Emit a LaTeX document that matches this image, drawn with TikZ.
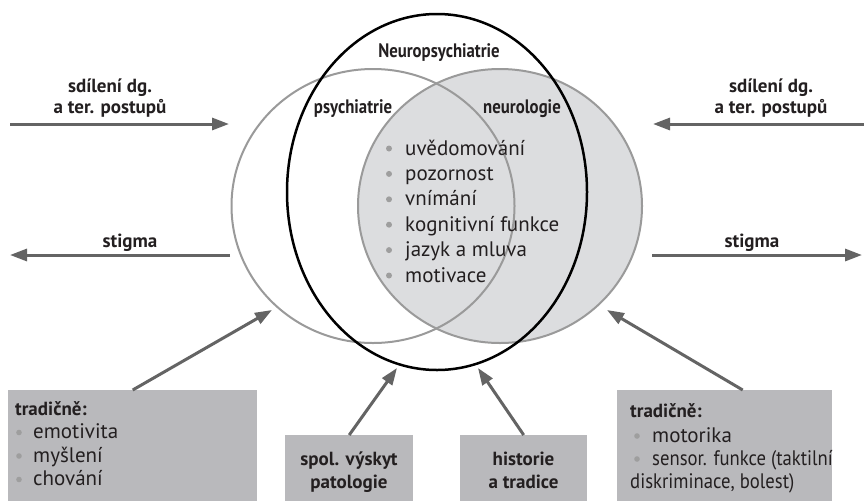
\documentclass[tikz,border=0pt]{standalone}
\usepackage{fontspec}
\setmainfont{PT Sans}
\newfontfamily\condfont{PT Sans}[FakeStretch=0.86]
\newfontfamily\narrowfont{PT Sans}[FakeStretch=0.89]
\usetikzlibrary{arrows.meta,shapes.geometric}
\definecolor{circgray}{HTML}{9A9A9A}
\definecolor{fillgray}{HTML}{DCDDDF}
\definecolor{boxgray}{HTML}{B9B9BC}
\definecolor{arrgray}{HTML}{646464}
\definecolor{txt}{HTML}{231F20}
\definecolor{bulgray}{HTML}{9E9E9E}
\newcommand\lblfont{\bfseries\fontsize{19}{22}\selectfont}
\newcommand\circfont{\condfont\bfseries\fontsize{19.5}{22}\selectfont}
\newcommand\itemfont{\fontsize{21}{24}\selectfont}
\begin{document}
\begin{tikzpicture}[x=1pt,y=-1pt,
  lbl/.style={font=\lblfont, text=txt, inner sep=0, anchor=base},
  clbl/.style={font=\circfont, text=txt, inner sep=0, anchor=base},
  item/.style={font=\itemfont, text=txt, inner sep=0, anchor=base west},
  arr/.style={draw=arrgray, line width=3pt, -{Triangle[length=17pt,width=12pt]}},
  boxnode/.style={fill=boxgray, inner sep=0, anchor=north west},
  circ/.style={ellipse, inner sep=0, line width=2pt},
  bul/.style={fill=bulgray}]
\useasboundingbox (0,0) rectangle (864,501);
\fill[white] (0,0) rectangle (864,501);
% circles
\node[circ, fill=fillgray, draw=circgray, minimum width=284pt, minimum height=274pt] (neuro) at (500,206) {};
\node[circ, draw=circgray, minimum width=283pt, minimum height=274pt] (psych) at (373,206) {};
\node[circ, draw=black, line width=2.5pt, minimum width=300pt, minimum height=356pt] (neuropsy) at (437,192) {};
% circle labels
\node[clbl] (tNP) at (439,57) {Neuropsychiatrie};
\node[clbl] (tP) at (353,113) {psychiatrie};
\node[clbl] (tN) at (522,113) {neurologie};
% central list
\foreach \t [count=\i] in {uvědomování,pozornost,vnímání,kognitivní funkce,jazyk a mluva,motivace}{
  \pgfmathsetmacro\yy{155+25.4*(\i-1)}
  \fill[bul] (389,\yy-6.5) circle (3pt);
  \node[item] (c\i) at (405,\yy) {\t};
}
% side arrows
\coordinate (la1) at (10,124); \coordinate (la2) at (229,124);
\coordinate (ra1) at (864,124); \coordinate (ra2) at (653,124);
\coordinate (ls1) at (230,255); \coordinate (ls2) at (10,255);
\coordinate (rs1) at (652,255); \coordinate (rs2) at (862,255);
\draw[arr] (la1) -- (la2);
\draw[arr] (ra1) -- (ra2);
\draw[arr] (ls1) -- (ls2);
\draw[arr] (rs1) -- (rs2);
\node[lbl] (tl1) at (110,92) {sdílení dg.};
\node[lbl] (tl2) at (110,113) {a ter. postupů};
\node[lbl] (tr1) at (771,92) {sdílení dg.};
\node[lbl] (tr2) at (771,113) {a ter. postupů};
\node[lbl] (tsl) at (130,247) {stigma};
\node[lbl] (tsr) at (752,247) {stigma};
% boxes
\node[boxnode, minimum width=249pt, minimum height=111pt] (lbox) at (8,390) {};
\node[boxnode, minimum width=215pt, minimum height=111pt] (rbox) at (617,390) {};
\node[boxnode, minimum width=128pt, minimum height=66pt] (mlbox) at (285,435) {};
\node[boxnode, minimum width=127pt, minimum height=66pt] (mrbox) at (460,435) {};
% box texts
\node[lbl, anchor=base west] (lh) at (15,415) {tradičně:};
\foreach \t [count=\i] in {emotivita,myšlení,chování}{
  \pgfmathsetmacro\yy{415+23.5*\i}
  \fill[bul] (19,\yy-6) circle (2.8pt);
  \node[item] (l\i) at (33,\yy) {\t};
}
\node[lbl, anchor=base west] (rh) at (630,417) {tradičně:};
\fill[bul] (637,436) circle (2.8pt);
\node[item] (r1) at (652,442) {motorika};
\fill[bul] (637,459) circle (2.8pt);
\node[item, font=\narrowfont\fontsize{21}{24}\selectfont] (r2) at (652,465) {sensor. funkce (taktilní};
\node[item, font=\narrowfont\fontsize{21}{24}\selectfont] (r3) at (630,488.5) {diskriminace, bolest)};
\node[lbl] (m1) at (349,465) {spol. výskyt};
\node[lbl] (m2) at (349,488) {patologie};
\node[lbl] (h1) at (523.5,465) {historie};
\node[lbl] (h2) at (523.5,488) {a tradice};
% bottom arrows
\coordinate (tipL) at (272,310);
\coordinate (tipR) at (607,310);
\coordinate (tipML) at (397,368);
\coordinate (tipMR) at (478,368);
\draw[arr] (lbox.north) -- (tipL);
\draw[arr] ([xshift=18pt]rbox.north) -- (tipR);
\draw[arr] (mlbox.north) -- (tipML);
\draw[arr] (mrbox.north) -- (tipMR);
\end{tikzpicture}
\end{document}
